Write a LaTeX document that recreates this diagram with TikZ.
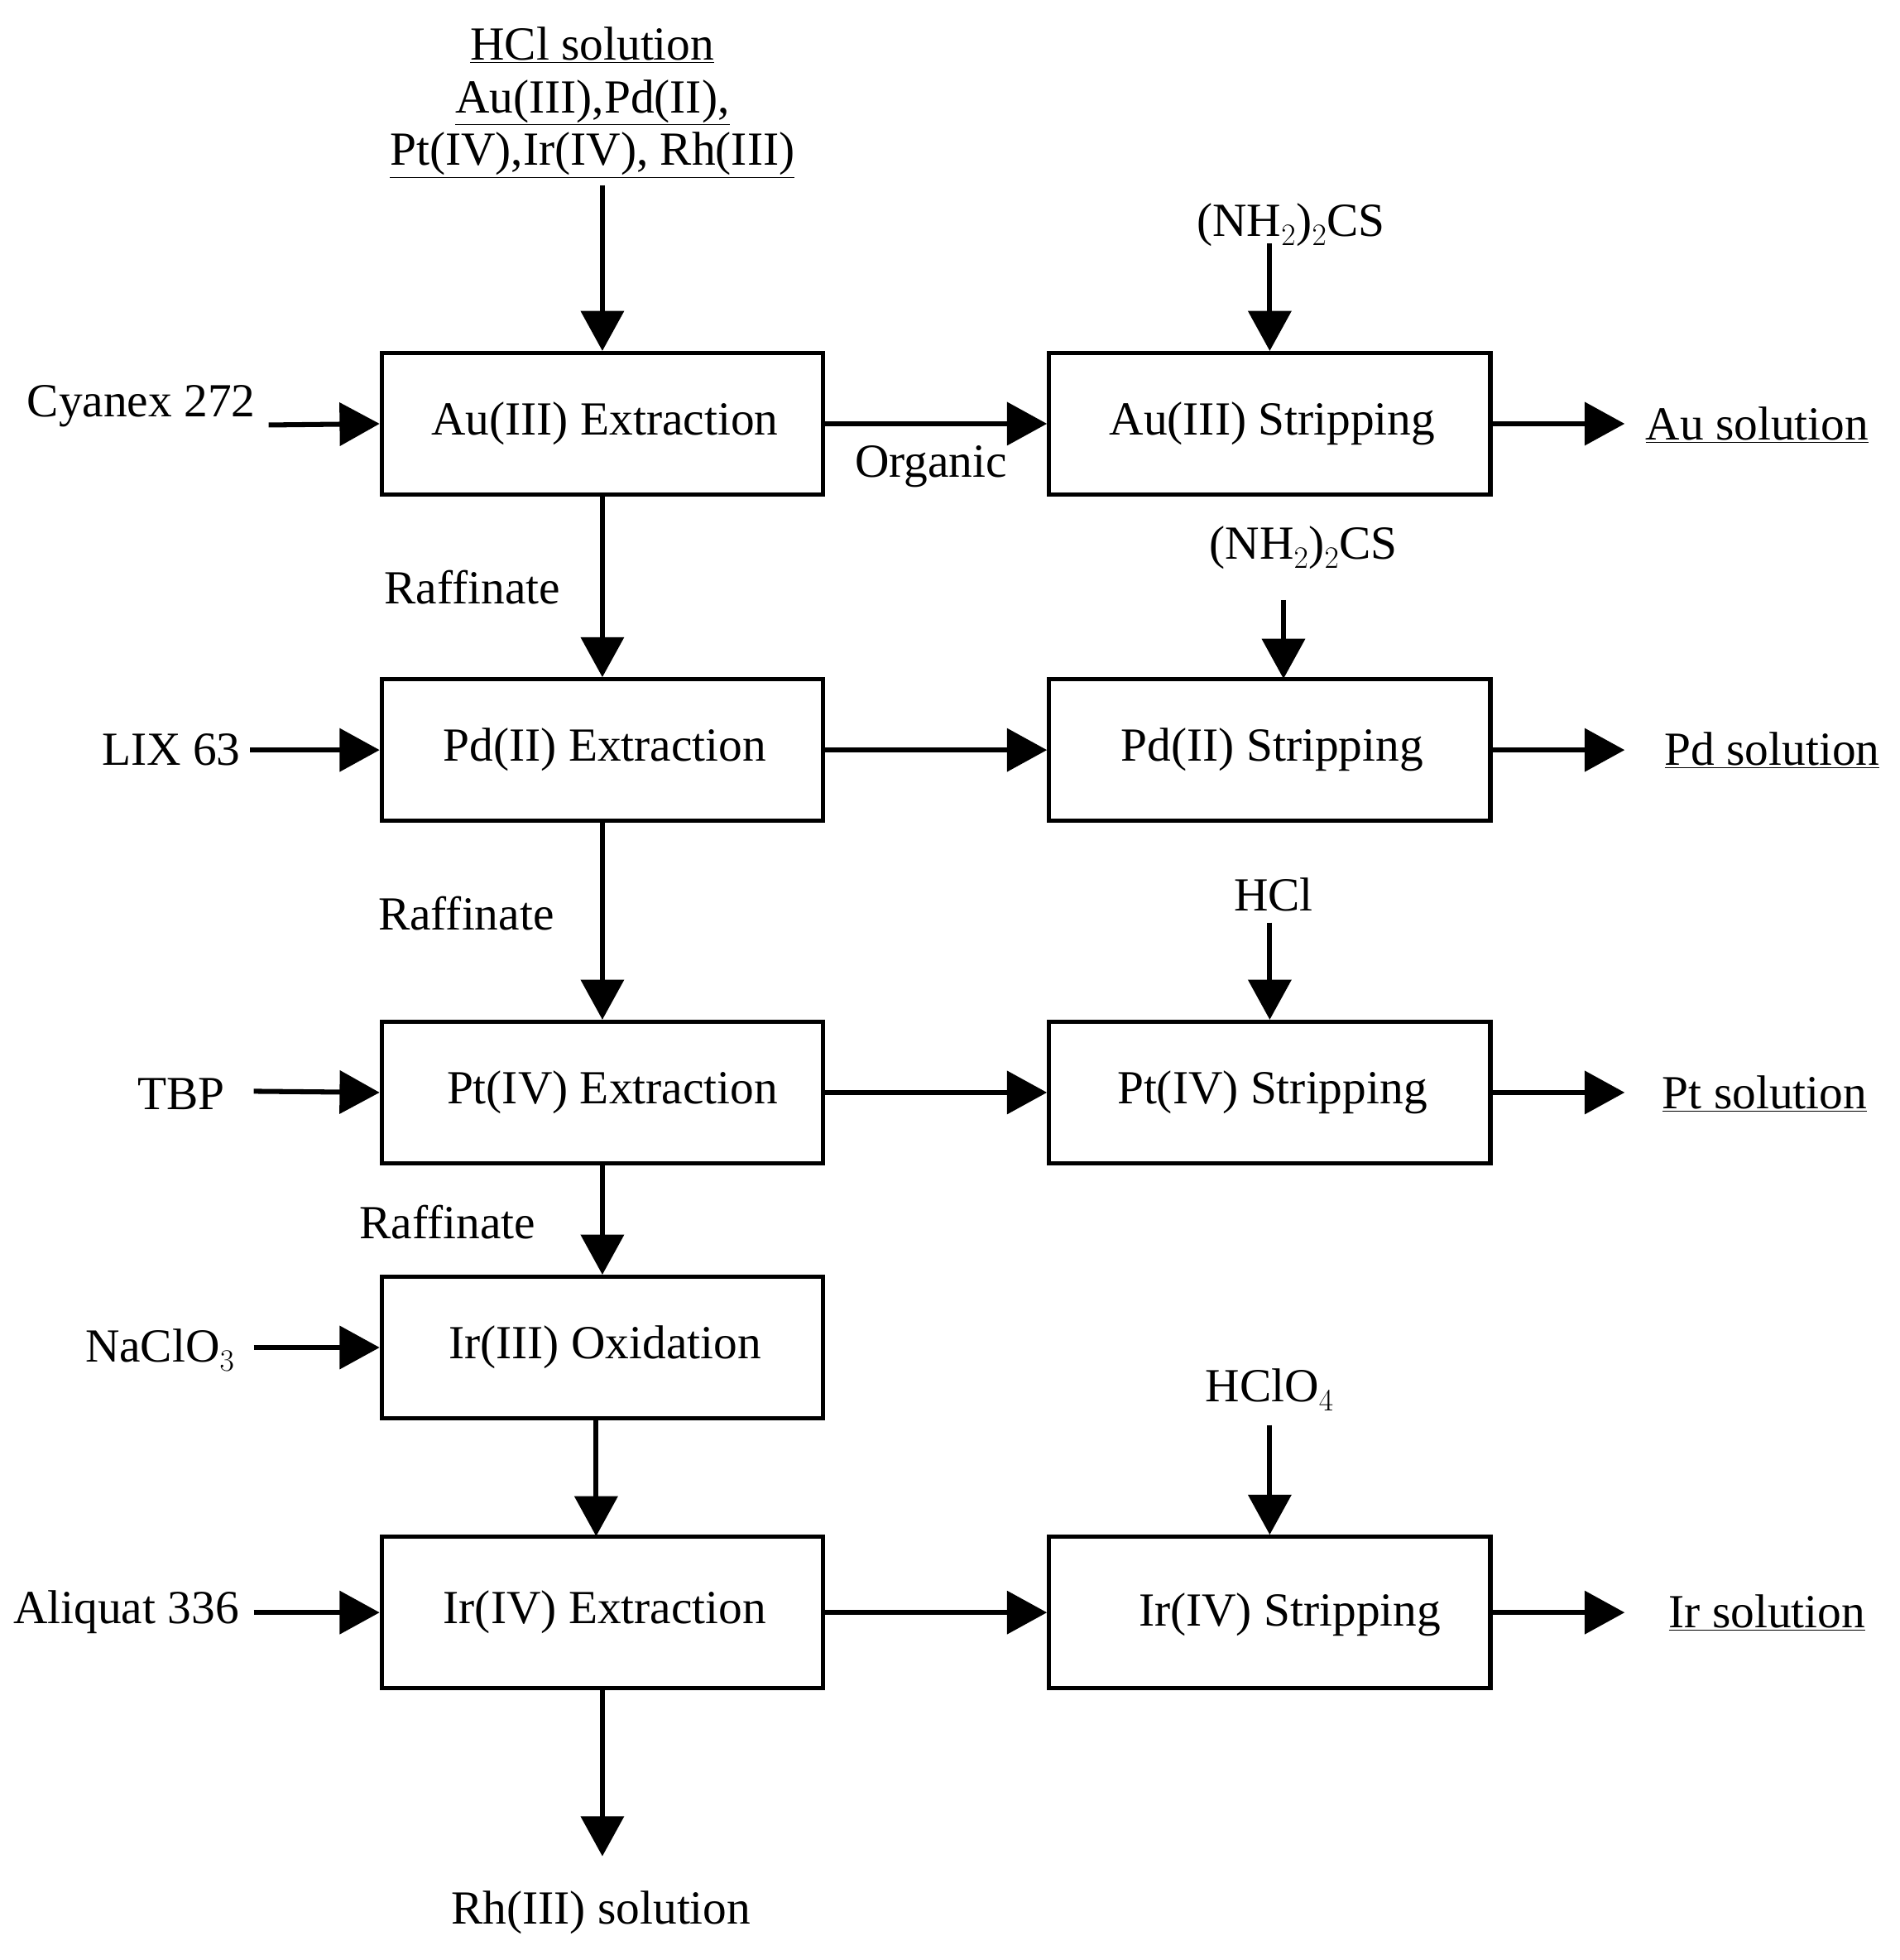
\documentclass[tikz,border=0pt]{standalone}
\usepackage{fontspec}
\setmainfont{Liberation Serif}
\usetikzlibrary{arrows.meta}
\begin{document}
\begin{tikzpicture}[x=1pt,y=-1pt,
  box/.style={draw,line width=3.5pt,minimum width=353pt,minimum height=113pt,inner sep=0pt},
  txt/.style={inner sep=2pt,font=\fontsize{38}{44}\selectfont},
  arr/.style={line width=4pt,-{Triangle[length=32pt,width=34pt]}}]
\useasboundingbox (0,0) rectangle (1520,1568);
% boxes
\node[box] (aux) at (482,339) {};
\node[txt] at (484,339) {Au(III) Extraction};
\node[box] (pdx) at (482,600) {};
\node[txt] at (484,600) {Pd(II) Extraction};
\node[box] (ptx) at (482,874) {};
\node[txt] at (490,874) {Pt(IV) Extraction};
\node[box] (iro) at (482,1078) {};
\node[txt] at (484,1078) {Ir(III) Oxidation};
\node[box,minimum height=121pt] (irx) at (482,1290) {};
\node[txt] at (484,1290) {Ir(IV) Extraction};
\node[box] (aus) at (1016,339) {};
\node[txt] at (1018,339) {Au(III) Stripping};
\node[box] (pds) at (1016,600) {};
\node[txt] at (1018,600) {Pd(II) Stripping};
\node[box] (pts) at (1016,874) {};
\node[txt] at (1018,874) {Pt(IV) Stripping};
\node[box,minimum height=121pt] (irs) at (1016,1290) {};
\node[txt] at (1032,1292) {Ir(IV) Stripping};
% feed
\node[txt,align=center] (feed) at (474,82) {\underline{HCl solution}\\[-2pt]\underline{Au(III),Pd(II),}\\[-2pt]\underline{Pt(IV),Ir(IV), Rh(III)}};
\draw[arr] (482,148) -- (aux.north);
% reagents right
\node[txt] (r1) at (1033,180) {(NH$_2$)$_2$CS};
\draw[arr] (1016,195) -- (aus.north);
\node[txt] (r2) at (1043,438) {(NH$_2$)$_2$CS};
\draw[arr] (1027,480) -- (1027,543);
\node[txt] (r3) at (1019,716) {HCl};
\draw[arr] (1016,738) -- (pts.north);
\node[txt] (r4) at (1016,1112) {HClO$_4$};
\draw[arr] (1016,1140) -- (irs.north);
% left inputs
\node[txt] (c1) at (113,325) {Cyanex 272};
\draw[arr] (215,340) -- (aux.west);
\node[txt] (c2) at (137,600) {LIX 63};
\draw[arr] (200,600) -- (pdx.west);
\node[txt] (c3) at (145,875) {TBP};
\draw[arr] (203,873) -- (ptx.west);
\node[txt] (c4) at (128,1080) {NaClO$_3$};
\draw[arr] (203,1078) -- (iro.west);
\node[txt] (c5) at (101,1290) {Aliquat 336};
\draw[arr] (203,1290) -- (irx.west);
% organic
\draw[arr] (aux.east) -- (aus.west);
\node[txt] (org) at (745,373) {Organic};
\draw[arr] (pdx.east) -- (pds.west);
\draw[arr] (ptx.east) -- (pts.west);
\draw[arr] (irx.east) -- (irs.west);
% outputs
\node[txt] (o1) at (1406,340) {\underline{Au solution}};
\draw[arr] (aus.east) -- (1300,339);
\node[txt] (o2) at (1418,600) {\underline{Pd solution}};
\draw[arr] (pds.east) -- (1300,600);
\node[txt] (o3) at (1412,875) {\underline{Pt solution}};
\draw[arr] (pts.east) -- (1300,874);
\node[txt] (o4) at (1414,1290) {\underline{Ir solution}};
\draw[arr] (irs.east) -- (1300,1290);
% raffinate
\draw[arr] (aux.south) -- (pdx.north);
\node[txt] at (378,470) {Raffinate};
\draw[arr] (pdx.south) -- (ptx.north);
\node[txt] at (373,731) {Raffinate};
\draw[arr] (ptx.south) -- (iro.north);
\node[txt] at (358,978) {Raffinate};
\draw[arr] (477,1134) -- (477,1229);
\node[txt] (rh) at (481,1530) {Rh(III) solution};
\draw[arr] (irx.south) -- (482,1485);
\end{tikzpicture}
\end{document}
